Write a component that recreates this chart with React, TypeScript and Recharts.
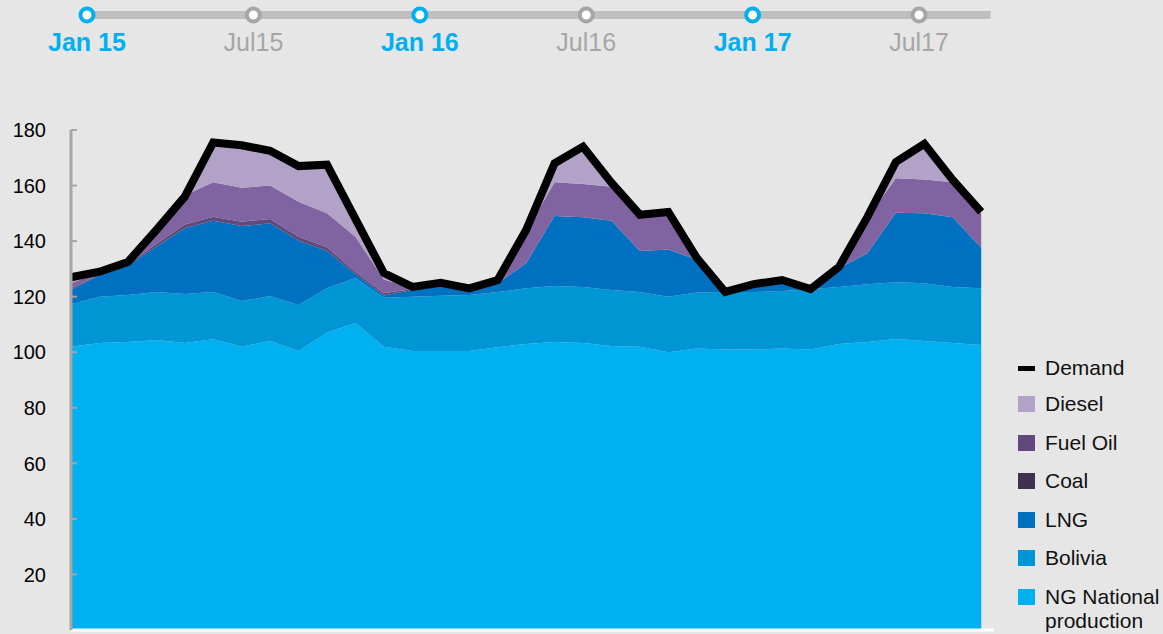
import { Area, ComposedChart, Legend, Line, Scatter, XAxis, YAxis } from 'recharts'

// Monthly gas supply vs demand, Jan 2015 - Sep 2017
const months = [
  'Jan-15', 'Feb-15', 'Mar-15', 'Apr-15', 'May-15', 'Jun-15', 'Jul-15', 'Aug-15', 'Sep-15', 'Oct-15', 'Nov-15', 'Dec-15',
  'Jan-16', 'Feb-16', 'Mar-16', 'Apr-16', 'May-16', 'Jun-16', 'Jul-16', 'Aug-16', 'Sep-16', 'Oct-16', 'Nov-16', 'Dec-16',
  'Jan-17', 'Feb-17', 'Mar-17', 'Apr-17', 'May-17', 'Jun-17', 'Jul-17', 'Aug-17', 'Sep-17',
]
const ngNational = [
  102, 103.3, 103.7, 104.4, 103.3, 104.7, 102, 104, 100.4, 107, 110.5, 102,
  100.4, 100.4, 100.4, 101.8, 103, 103.7, 103.3, 102.2, 102, 100, 101.3, 101,
  101, 101.3, 101, 103, 103.7, 104.8, 104, 103.3, 102.6,
]
const bolivia = [
  15.3, 16.7, 16.9, 17.3, 17.7, 17, 16.4, 16.2, 16.6, 16, 16.2, 17.6,
  19.6, 19.9, 20.2, 19.9, 20, 20.1, 20.2, 20.2, 19.7, 20, 20.2, 20.7,
  20.7, 20.7, 21.7, 20.5, 20.8, 20.4, 20.8, 20.2, 20.4,
]
const lng = [
  5.1, 7.8, 10.8, 16.3, 23.6, 25.6, 27, 26.2, 23.1, 13.4, 1.5, 0.8,
  2.4, 3.3, 1.8, 3.1, 9, 25.2, 25.1, 24.9, 14.7, 17, 11.8, 0.3,
  2.5, 3.4, 0.3, 6.7, 11.1, 25, 25.2, 25.1, 14.6,
]
const coal = [
  0.5, 0.3, 0.3, 1, 1.4, 1.5, 1.6, 1.6, 1.5, 1.4, 0.8, 0.8,
  0.4, 0, 0, 0, 0, 0, 0, 0, 0, 0, 0, 0,
  0, 0, 0, 0, 0, 0, 0, 0, 0,
]
const fuelOil = [
  1.9, 0.8, 0.3, 5, 10.5, 12.4, 12.2, 12, 12.6, 12.2, 12.6, 5,
  0.5, 0.8, 0.3, 0.8, 11.5, 12.2, 12, 12.3, 12.8, 13.2, 0.5, 0,
  0.2, 0.3, 0, 0.4, 12.8, 12.4, 12.2, 12.6, 12.4,
]
const diesel = [
  1.5, 0.2, 0, 0, 0, 14, 15, 12.3, 13, 17.5, 6, 1.5,
  0, 0, 0, 0, 0, 6.5, 13.2, 1.2, 0, 0, 0, 0,
  0, 0, 0, 0, 0, 5.6, 12.6, 0.6, 0,
]
const demand = [
  127, 129, 132.5, 144, 156, 175.5, 174.5, 172.5, 167, 167.5, 148, 128.5,
  123.5, 125, 123, 126, 144, 168, 174, 161, 149.5, 150.5, 134, 121.7,
  124.5, 126, 122.7, 130.7, 148.7, 168.5, 175, 162, 150.5,
]
const yTicks = [20, 40, 60, 80, 100, 120, 140, 160, 180]

const milestoneLabels = ['Jan 15', 'Jul15', 'Jan 16', 'Jul16', 'Jan 17', 'Jul17']

const colors = {
  ng: '#00b0f0',
  bolivia: '#0096d6',
  lng: '#0070c0',
  coal: '#604a7b',
  fuelOil: '#8064a2',
  diesel: '#b3a2c7',
  demand: '#000000',
  axis: '#a6a6a6',
  track: '#bfbfbf',
  page: '#e6e6e6',
}

const legendItems = [
  { name: 'Demand', color: '#000000', line: true },
  { name: 'Diesel', color: '#b3a2c7' },
  { name: 'Fuel Oil', color: '#604a7b' },
  { name: 'Coal', color: '#403152' },
  { name: 'LNG', color: '#0070c0' },
  { name: 'Bolivia', color: '#0096d6' },
  { name: 'NG National production', color: '#00b0f0' },
]

const chartData = months.map((month, idx) => ({
  idx,
  month,
  ngNational: ngNational[idx],
  bolivia: bolivia[idx],
  lng: lng[idx],
  coal: coal[idx],
  fuelOil: fuelOil[idx],
  diesel: diesel[idx],
  demand: demand[idx],
}))

const milestones = milestoneLabels.map((label, pos) => ({
  pos,
  y: 15,
  label,
  major: label.startsWith('Jan'),
}))
const track = [
  { pos: 0, y: 15 },
  { pos: 5.43, y: 15 },
]

const font = '"Liberation Sans", Arial, sans-serif'

function ValueTick({ x, y, payload }: { x?: number; y?: number; payload?: { value: number } }) {
  return (
    <g>
      <text x={x} y={y} dy="0.36em" textAnchor="end" fill="#000" fontSize={20} fontFamily={font}>
        {payload?.value}
      </text>
      <line x1={(x ?? 0) + 25} x2={(x ?? 0) + 31} y1={y} y2={y} stroke={colors.axis} strokeWidth={2} />
    </g>
  )
}

function MilestoneDot(props: { cx?: number; cy?: number; payload?: { label: string; major: boolean } }) {
  const { cx = 0, cy = 0, payload } = props
  const major = payload?.major
  const tone = major ? colors.ng : colors.axis
  return (
    <g>
      <circle cx={cx} cy={cy} r={6.5} fill="#fff" stroke={tone} strokeWidth={4} />
      <text
        x={cx}
        y={cy + 36}
        textAnchor="middle"
        fill={tone}
        fontSize={25}
        fontWeight={major ? 700 : 400}
        fontFamily={font}
      >
        {payload?.label}
      </text>
    </g>
  )
}

function SupplyLegend() {
  return (
    <div style={{ fontFamily: font, fontSize: 21, color: '#111' }}>
      {legendItems.map((item) => (
        <div
          key={item.name}
          style={{ display: 'flex', alignItems: 'flex-start', height: item.line ? 36 : 38.6 }}
        >
          <span
            style={{
              width: 17,
              height: item.line ? 5 : 16,
              marginTop: item.line ? 10 : 4,
              marginRight: 10,
              flexShrink: 0,
              backgroundColor: item.color,
            }}
          />
          <span style={{ lineHeight: '24px', width: 125 }}>{item.name}</span>
        </div>
      ))}
    </div>
  )
}

export default function App() {
  return (
    <div
      style={{
        position: 'absolute',
        left: 0,
        top: 0,
        width: 1163,
        height: 634,
        overflow: 'hidden',
        background: colors.page,
      }}
    >
      <div style={{ position: 'absolute', left: 0, top: 0 }}>
        <ComposedChart width={1163} height={70} margin={{ top: 0, right: 0, bottom: 0, left: 0 }}>
          <XAxis dataKey="pos" type="number" domain={[-0.5228, 6.466]} hide />
          <YAxis dataKey="y" type="number" domain={[0, 70]} reversed hide />
          <Line
            data={track}
            dataKey="y"
            stroke={colors.track}
            strokeWidth={8}
            dot={false}
            activeDot={false}
            isAnimationActive={false}
          />
          <Scatter data={milestones} dataKey="y" shape={<MilestoneDot />} isAnimationActive={false} />
        </ComposedChart>
      </div>

      <div style={{ position: 'absolute', left: 0, top: 0 }}>
        <ComposedChart
          width={1163}
          height={634}
          data={chartData}
          margin={{ top: 130, right: 169, bottom: 0, left: 0 }}
        >
          <XAxis
            dataKey="idx"
            type="number"
            domain={[0, 32.45]}
            tick={false}
            tickLine={false}
            height={4}
            axisLine={{ stroke: '#ffffff', strokeWidth: 3 }}
          />
          <YAxis
            type="number"
            domain={[0, 180]}
            ticks={yTicks}
            width={71}
            tick={<ValueTick />}
            tickLine={false}
            tickSize={0}
            tickMargin={25}
            axisLine={{ stroke: colors.axis, strokeWidth: 3 }}
          />
          <Area type="linear" dataKey="ngNational" stackId="supply" fill={colors.ng} stroke="none" fillOpacity={1} isAnimationActive={false} />
          <Area type="linear" dataKey="bolivia" stackId="supply" fill={colors.bolivia} stroke="none" fillOpacity={1} isAnimationActive={false} />
          <Area type="linear" dataKey="lng" stackId="supply" fill={colors.lng} stroke="none" fillOpacity={1} isAnimationActive={false} />
          <Area type="linear" dataKey="coal" stackId="supply" fill={colors.coal} stroke="none" fillOpacity={1} isAnimationActive={false} />
          <Area type="linear" dataKey="fuelOil" stackId="supply" fill={colors.fuelOil} stroke="none" fillOpacity={1} isAnimationActive={false} />
          <Area type="linear" dataKey="diesel" stackId="supply" fill={colors.diesel} stroke="none" fillOpacity={1} isAnimationActive={false} />
          <Line
            type="linear"
            dataKey="demand"
            stroke={colors.demand}
            strokeWidth={8}
            strokeLinejoin="miter"
            dot={false}
            activeDot={false}
            isAnimationActive={false}
          />
          <Legend
            layout="vertical"
            align="center"
            verticalAlign="middle"
            content={<SupplyLegend />}
            wrapperStyle={{ left: 1018, top: 356, width: 145, height: 280 }}
          />
        </ComposedChart>
      </div>
    </div>
  )
}
